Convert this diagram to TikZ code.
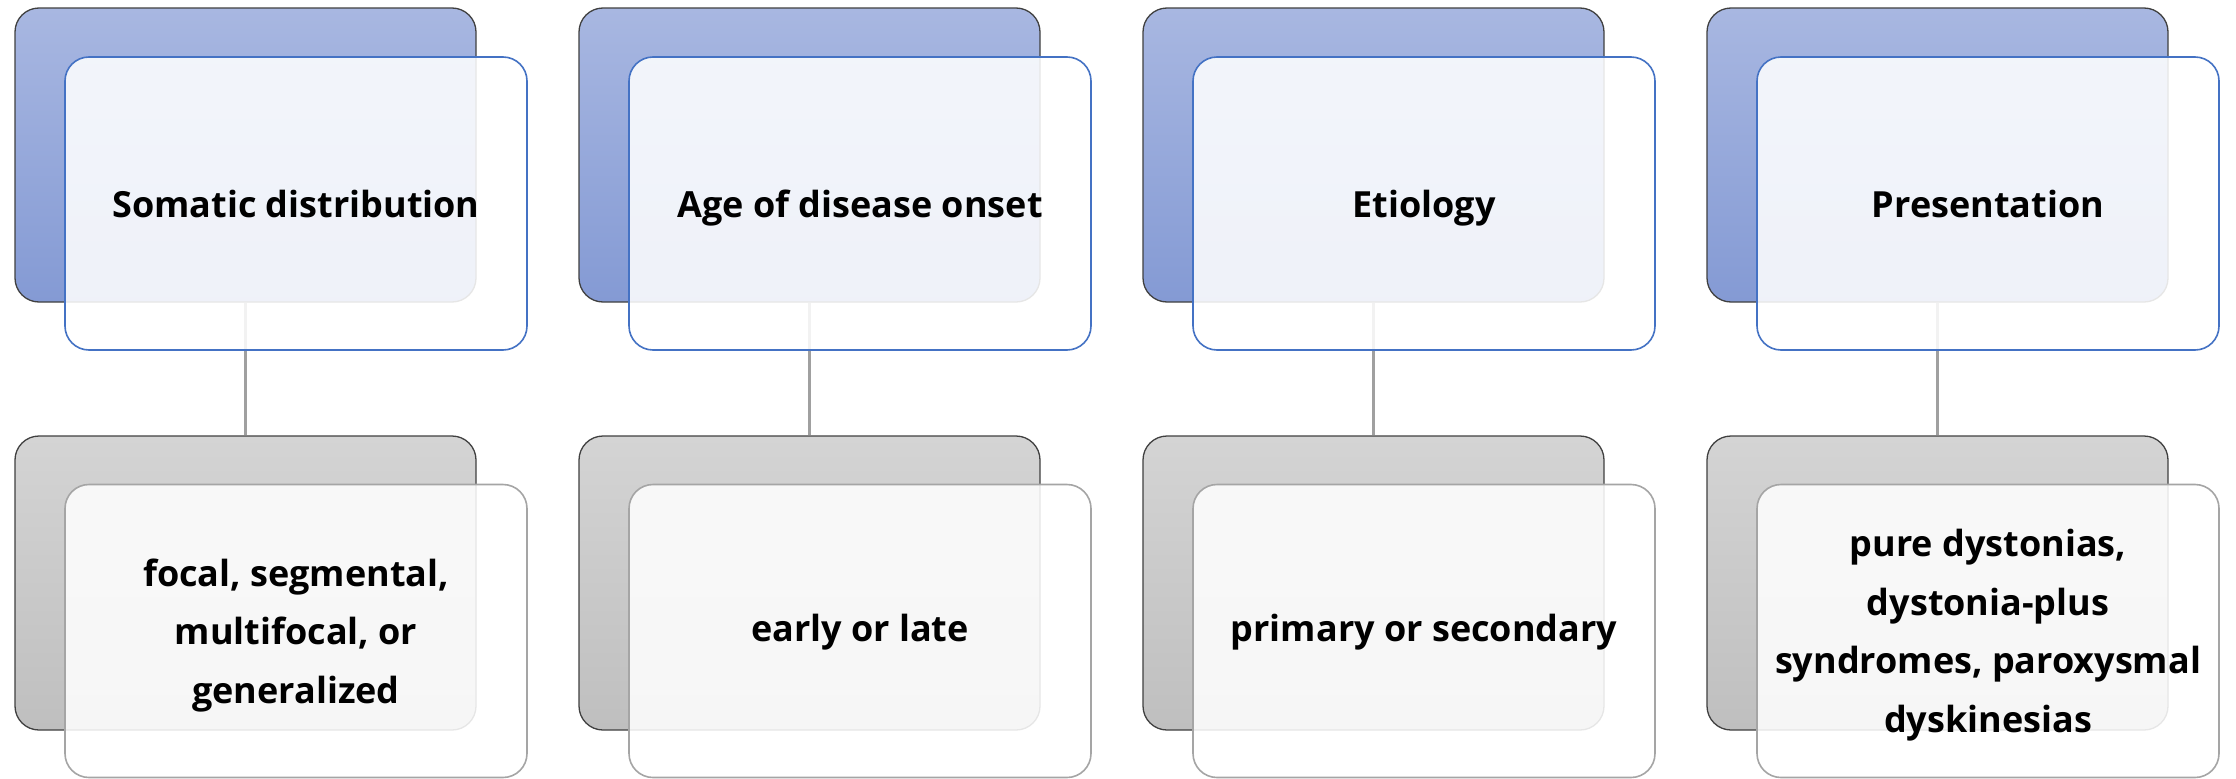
\documentclass[tikz,border=0pt]{standalone}
\usepackage{fontspec}
\setmainfont{Open Sans}
\definecolor{bluetop}{RGB}{168,183,225}
\definecolor{bluebot}{RGB}{132,154,212}
\definecolor{graytop}{RGB}{212,212,212}
\definecolor{graybot}{RGB}{191,191,191}
\definecolor{frontblue}{RGB}{68,114,196}
\definecolor{frontgray}{RGB}{165,165,165}
\definecolor{backedge}{RGB}{64,64,64}
\definecolor{linkgray}{RGB}{160,160,160}
\tikzset{
  backcard/.style={rectangle, rounded corners=24pt, minimum width=461pt, minimum height=294pt,
    inner sep=0pt, draw=backedge, line width=1.3pt},
  headback/.style={backcard, top color=bluetop, bottom color=bluebot},
  itemback/.style={backcard, top color=graytop, bottom color=graybot},
  frontcard/.style={rectangle, rounded corners=24pt, minimum width=462pt, minimum height=293pt,
    inner sep=0pt, fill=white, fill opacity=0.87, text opacity=1, line width=1.6pt,
    font=\bfseries\fontsize{36}{58.5}\selectfont, align=center},
  headfront/.style={frontcard, draw=frontblue, text height=27pt, text depth=0pt},
  itemfront/.style={frontcard, draw=frontgray, text depth=0pt},
  oneline/.style={text height=20pt},
  link/.style={draw=linkgray, line width=2.5pt}
}
\begin{document}
\begin{tikzpicture}[x=1pt,y=-1pt]
\fill[white] (0,0) rectangle (2236,779);
% back cards, four columns
\foreach \i/\x in {1/245.5, 2/809.5, 3/1373.5, 4/1937.5}{
  \node[headback] (hb\i) at (\x,155) {};
  \node[itemback] (ib\i) at (\x,583) {};
  \draw[link] (hb\i.south) -- (ib\i.north);
}
% front cards with labels
\node[headfront] (hf1) at (296,203.5) {Somatic distribution};
\node[headfront] (hf2) at (860,203.5) {Age of disease onset};
\node[headfront] (hf3) at (1424,203.5) {Etiology};
\node[headfront] (hf4) at (1988,203.5) {Presentation};
\node[itemfront] (if1) at (296,631) {focal, segmental,\\ multifocal, or\\ generalized};
\node[itemfront, oneline] (if2) at (860,631) {early or late};
\node[itemfront, oneline] (if3) at (1424,631) {primary or secondary};
\node[itemfront] (if4) at (1988,631) {pure dystonias,\\ dystonia-plus\\ syndromes, paroxysmal\\ dyskinesias};
\end{tikzpicture}
\end{document}
